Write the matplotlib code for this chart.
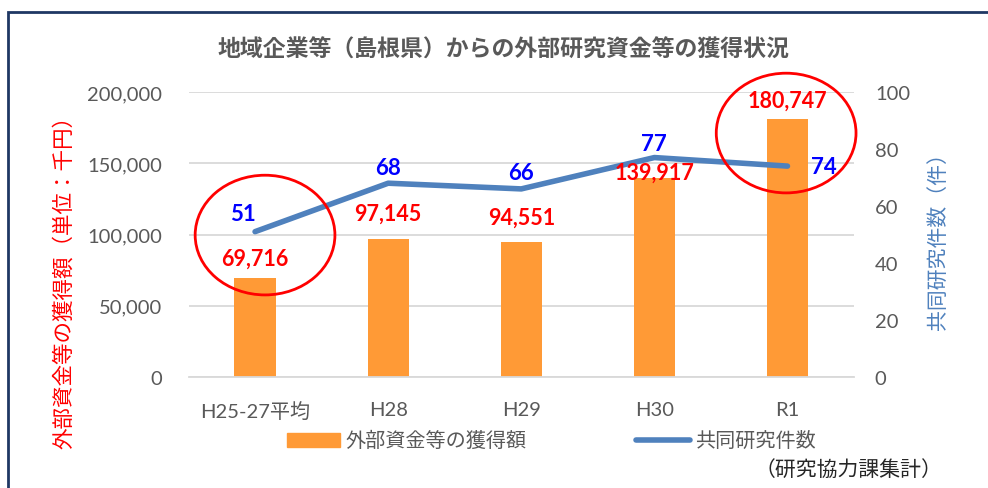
import matplotlib.pyplot as plt
from matplotlib.patches import Ellipse, Rectangle
from matplotlib.ticker import FuncFormatter

plt.rcParams["font.family"] = ["Lato", "Noto Sans CJK JP", "DejaVu Sans"]

categories = ["H25-27平均", "H28", "H29", "H30", "R1"]
funding = [69716, 97145, 94551, 139917, 180747]
joint_research = [51, 68, 66, 77, 74]

# label offsets in points (dx, dy) relative to bar top / line point
funding_offsets = [(0, 14), (0, 18), (0, 18), (0, 4), (0, 14)]
research_offsets = [(-9, 13), (0, 11), (0, 12), (0, 10), (26, 0)]

ORANGE = "#FF9A36"
LINE_BLUE = "#4F81BD"
GRAY = "#595959"
CJK = ["Noto Sans CJK JP", "DejaVu Sans"]

fig = plt.figure(figsize=(9.88, 4.89), dpi=100)
ax = fig.add_axes([0.1908, 0.227, 0.6736, 0.5828])
ax2 = ax.twinx()

x = list(range(len(categories)))
ax.bar(x, funding, width=0.31, color=ORANGE, zorder=2)
ax.set_ylim(0, 200000)
ax.set_xlim(-0.5, len(categories) - 0.5)
ax.set_yticks([0, 50000, 100000, 150000, 200000])
ax.yaxis.set_major_formatter(FuncFormatter(lambda v, p: f"{int(v):,}"))
ax.grid(axis="y", color="#D9D9D9", linewidth=1.3, zorder=0)
ax.set_axisbelow(True)
ax.set_xticks(x)
ax.set_xticklabels(categories)

for a in (ax, ax2):
    for s in a.spines.values():
        s.set_visible(False)
    a.tick_params(length=0, labelsize=14.5, labelcolor=GRAY)
ax.spines["bottom"].set_visible(True)
ax.spines["bottom"].set_color("#D9D9D9")
ax.spines["bottom"].set_linewidth(1.3)
ax.tick_params(axis="y", pad=19)
ax.tick_params(axis="x", pad=17)
ax2.tick_params(axis="y", pad=15)

ax2.plot(x, joint_research, color=LINE_BLUE, linewidth=4, solid_capstyle="round",
         zorder=3)
ax2.set_ylim(0, 100)
ax2.set_yticks([0, 20, 40, 60, 80, 100])

for xi, v, (dx, dy) in zip(x, funding, funding_offsets):
    ax2.annotate(f"{v:,}", xy=(xi, v / 2000), xytext=(dx, dy),
                 textcoords="offset points", ha="center", va="center",
                 color="#FF0000", fontsize=15.5, fontweight="bold", zorder=4)

for xi, v, (dx, dy) in zip(x, joint_research, research_offsets):
    ax2.annotate(str(v), xy=(xi, v), xytext=(dx, dy),
                 textcoords="offset points", ha="center", va="center",
                 color="#0000FF", fontsize=16, fontweight="bold", zorder=4)

# highlight rings around the first and last period
for xi, yc in [(0.075, 49.8), (3.99, 85.6)]:
    ax2.add_patch(Ellipse((xi, yc), 1.05, 42, fill=False, edgecolor="#FF0000",
                          linewidth=2, clip_on=False, zorder=5))

ax.set_ylabel("外部資金等の獲得額（単位：千円）", color="#FF0000", fontsize=15.5,
              family=CJK)
ax.yaxis.set_label_coords(-0.170, 0.354)
ax2.set_ylabel("共同研究件数（件）", color=LINE_BLUE, fontsize=15, family=CJK)
ax2.yaxis.set_label_coords(1.11, 0.498)

fig.text(0.510, 0.898, "地域企業等（島根県）からの外部研究資金等の獲得状況",
         ha="center", va="center", fontsize=16.5, fontweight="bold", color=GRAY,
         family=CJK)

# legend drawn as figure artists
fig.patches.append(Rectangle((287 / 988, 1 - 448 / 489), 53 / 988, 14 / 489,
                             transform=fig.transFigure, color=ORANGE))
fig.text(345 / 988, 1 - 441 / 489, "外部資金等の獲得額", ha="left", va="center",
         fontsize=14.5, color=GRAY, family=CJK)
fig.lines.append(plt.Line2D([636 / 988, 690 / 988], [1 - 441 / 489] * 2,
                            transform=fig.transFigure, color=LINE_BLUE,
                            linewidth=4, solid_capstyle="round"))
fig.text(695 / 988, 1 - 441 / 489, "共同研究件数", ha="left", va="center",
         fontsize=14.5, color=GRAY, family=CJK)

fig.text(942 / 988, 1 - 470 / 489, "（研究協力課集計）", ha="right", va="center",
         fontsize=15, color="#262626", family=CJK)

# outer frame
fig.patches.append(Rectangle((8 / 988, -0.05), 1.1, 1.05 - 13 / 489,
                             transform=fig.transFigure, fill=False,
                             edgecolor="#1F3864", linewidth=2))

fig.savefig("out.png", dpi=100)
